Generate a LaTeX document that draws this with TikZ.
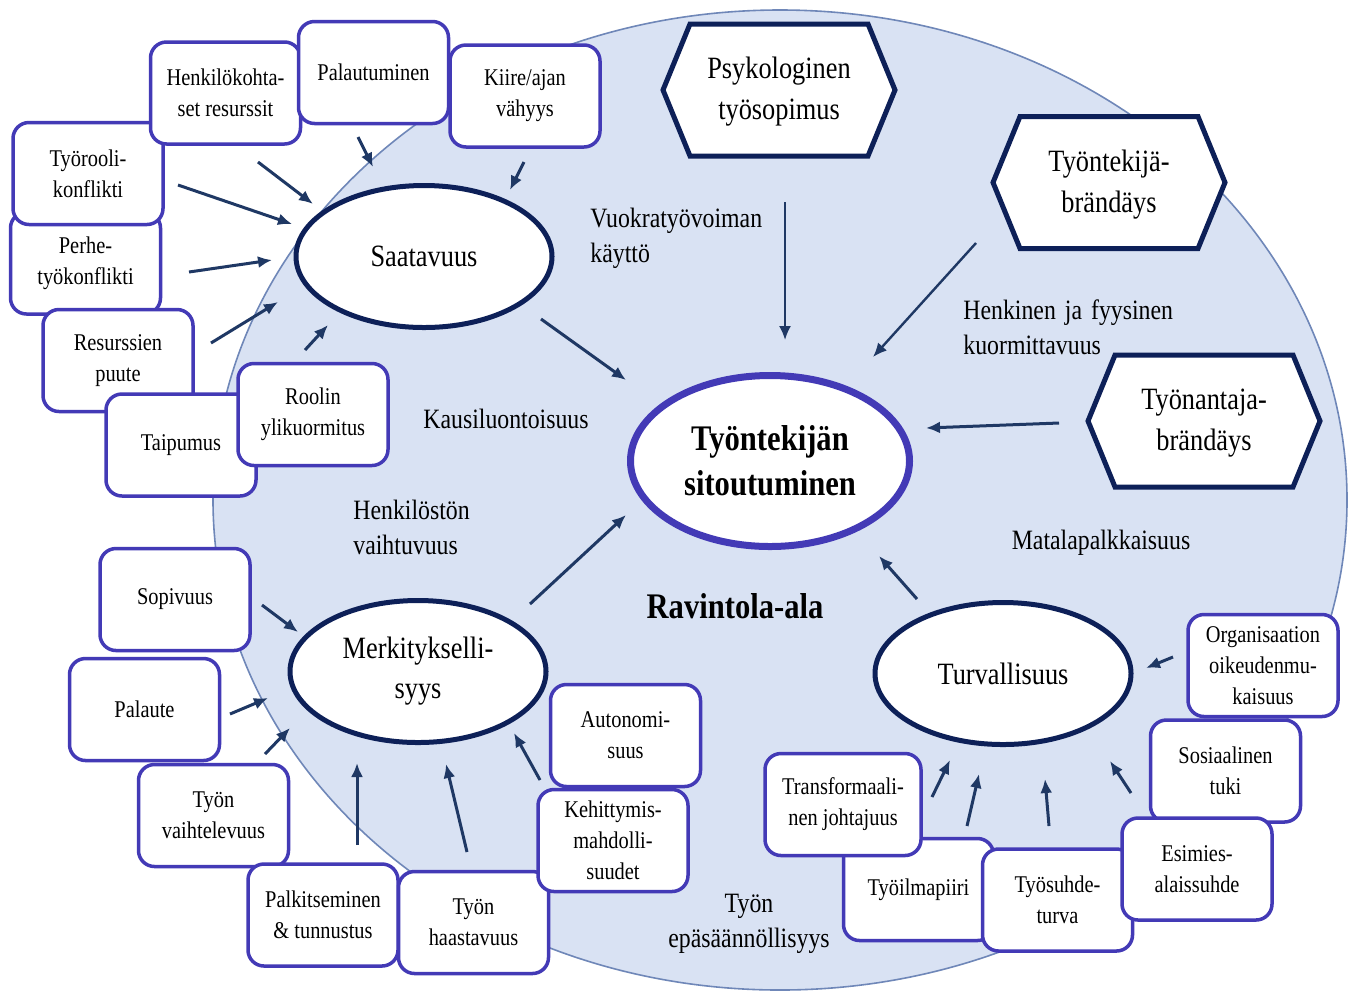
\documentclass[tikz,border=0pt]{standalone}
\usepackage{fontspec}
\setmainfont{Liberation Serif}[FakeStretch=0.85]
\usetikzlibrary{arrows.meta,shapes.geometric}
\definecolor{bgfill}{HTML}{D9E2F3}
\definecolor{bgline}{HTML}{6F87B8}
\definecolor{navy}{HTML}{0D2058}
\definecolor{purp}{HTML}{433AB6}
\definecolor{arrowc}{HTML}{1F3864}
\tikzset{
  box/.style={draw=purp, line width=1.75pt, fill=white, rounded corners=8pt,
    minimum width=75pt, minimum height=51pt, inner sep=0pt, align=center,
    font=\fontsize{12}{15.5}\selectfont},
  ell/.style={draw=navy, line width=2.5pt, fill=white, ellipse, inner sep=0pt,
    minimum width=128pt, minimum height=71pt, align=center,
    font=\fontsize{15.5}{20}\selectfont},
  hextext/.style={align=center, inner sep=0pt, font=\fontsize{15.5}{20.5}\selectfont},
  lbl/.style={align=left, inner sep=0pt, font=\fontsize{14}{17.5}\selectfont},
  arr/.style={draw=arrowc, line width=1.5pt, -{Latex[length=7pt,width=6pt]}},
  pics/hexa/.style={code={\draw[navy, line width=2.5pt, fill=white, line join=miter]
     (-116,0) -- (-89,-66) -- (89,-66) -- (116,0) -- (89,66) -- (-89,66) -- cycle;}}
}
\begin{document}
\begin{tikzpicture}[x=0.5pt,y=-0.5pt]
\useasboundingbox (0,0) rectangle (1352,992);
\clip (0,0) rectangle (1352,992);
% background
\draw[fill=bgfill, draw=bgline, line width=0.8pt] (780,500) ellipse [x radius=283.5pt, y radius=245pt];

% hexagons
\pic at (779,90) {hexa};
\node[hextext] (psy) at (779,92) {Psykologinen\\työsopimus};
\pic at (1109,182.5) {hexa};
\node[hextext] (tb) at (1109,185) {Työntekijä-\\brändäys};
\pic at (1204,421) {hexa};
\node[hextext] (ab) at (1204,423) {Työnantaja-\\brändäys};

% central
\node[draw=purp, line width=3.5pt, fill=white, ellipse, inner sep=0pt,
  minimum width=139.5pt, minimum height=85.5pt, align=center,
  font=\bfseries\fontsize{18}{22.5}\selectfont] (c) at (770,461) {Työntekijän\\sitoutuminen};

\node[ell] (saat) at (424,256.5) {Saatavuus};
\node[ell] (merk) at (418,671.5) {Merkitykselli-\\syys};
\node[ell] (turv) at (1003,673.5) {Turvallisuus};

% labels
\node[lbl, anchor=west] (vuok) at (590,238) {Vuokratyövoiman\\käyttö};
\node[lbl, anchor=west] (henkfy) at (963,327) {Henkinen\hspace{4.5pt}ja\hspace{4.5pt}fyysinen\\kuormittavuus};
\node[lbl] (kausi) at (506,419) {Kausiluontoisuus};
\node[lbl, anchor=west] (vaiht) at (353,527.5) {Henkilöstön\\vaihtuvuus};
\node[lbl] (matala) at (1101,543) {Matalapalkkaisuus};
\node[lbl, align=center] (epas) at (749,924) {Työn\\epäsäännöllisyys};
\node[inner sep=0pt, font=\bfseries\fontsize{18}{22}\selectfont] (rav) at (735,606) {Ravintola-ala};

% arrows into Saatavuus
\coordinate (h1s) at (258,162); \coordinate (h1e) at (313,204);
\coordinate (p1s) at (358,137); \coordinate (p1e) at (373,167);
\coordinate (k1s) at (524,162); \coordinate (k1e) at (510,190);
\coordinate (t1s) at (178,185); \coordinate (t1e) at (292,224);
\coordinate (f1s) at (189,272); \coordinate (f1e) at (272,260);
\coordinate (r1s) at (211,343); \coordinate (r1e) at (278,302);
\coordinate (o1s) at (305,350); \coordinate (o1e) at (328,325);
\foreach \a in {h1,p1,k1,t1,f1,r1,o1} {\draw[arr] (\a s) -- (\a e);}

% arrows into centre
\coordinate (sc1) at (541,319); \coordinate (sc2) at (626,380);
\coordinate (pc1) at (785,202); \coordinate (pc2) at (785,340);
\coordinate (tc1) at (976,243); \coordinate (tc2) at (873,357);
\coordinate (ac1) at (1059,423); \coordinate (ac2) at (926,428);
\coordinate (mc1) at (530,604); \coordinate (mc2) at (626,515);
\coordinate (uc1) at (917,599); \coordinate (uc2) at (879,556);
\draw[arr] (sc1) -- (sc2);
\draw[arr, line width=1pt] (pc1) -- (pc2);
\draw[arr, line width=1.2pt] (tc1) -- (tc2);
\draw[arr] (ac1) -- (ac2);
\draw[arr] (mc1) -- (mc2);
\draw[arr] (uc1) -- (uc2);

% arrows into Merkityksellisyys
\coordinate (m1s) at (262,605); \coordinate (m1e) at (298,632);
\coordinate (m2s) at (230,714); \coordinate (m2e) at (268,698);
\coordinate (m3s) at (265,754); \coordinate (m3e) at (290,728);
\coordinate (m4s) at (357,845); \coordinate (m4e) at (357,763);
\coordinate (m5s) at (467,852); \coordinate (m5e) at (446,764);
\coordinate (m6s) at (540,780); \coordinate (m6e) at (514,733);
\foreach \a in {m1,m2,m3,m4,m5,m6} {\draw[arr] (\a s) -- (\a e);}

% arrows into Turvallisuus
\coordinate (u1s) at (1173,657); \coordinate (u1e) at (1146,668);
\coordinate (u2s) at (932,797); \coordinate (u2e) at (950,760);
\coordinate (u3s) at (967,826); \coordinate (u3e) at (979,774);
\coordinate (u4s) at (1049,826); \coordinate (u4e) at (1045,779);
\coordinate (u5s) at (1131,793); \coordinate (u5e) at (1110,761);
\foreach \a in {u1,u2,u3,u4,u5} {\draw[arr] (\a s) -- (\a e);}

% top-left boxes
\node[box] (perhe) at (85.5,263) {Perhe-\\työkonflikti};
\node[box] (rooli) at (88,173.5) {Työrooli-\\konflikti};
\node[box] (henk) at (225.5,93) {Henkilökohta-\\set resurssit};
\node[box] (palau) at (373.5,72.5) {Palautuminen};
\node[box] (kiire) at (525,96) {Kiire/ajan\\vähyys};
\node[box] (resur) at (118,360.5) {Resurssien\\puute};
\node[box] (taip) at (181,445) {Taipumus};
\node[box] (ylik) at (313,414.5) {Roolin\\ylikuormitus};

% bottom-left boxes
\node[box] (sopi) at (175,599.5) {Sopivuus};
\node[box] (palaute) at (144.5,709.5) {Palaute};
\node[box] (vaihtel) at (213.5,815.5) {Työn\\vaihtelevuus};
\node[box] (palk) at (323,915) {Palkitseminen\\\&\ tunnustus};
\node[box] (haast) at (473.5,922.5) {Työn\\haastavuus};
\node[box] (auto) at (625.5,735.5) {Autonomi-\\suus};
\node[box] (kehit) at (613,840.5) {Kehittymis-\\mahdolli-\\suudet};

% bottom-right boxes
\node[box] (org) at (1263,665.5) {Organisaation\\oikeudenmu-\\kaisuus};
\node[box] (sos) at (1225.5,771) {Sosiaalinen\\tuki};
\node[box] (ilma) at (918.5,889.5) {Työilmapiiri};
\node[box, minimum width=78pt] (transf) at (843,804.5) {Transformaali-\\nen johtajuus};
\node[box] (suhde) at (1057.5,900) {Työsuhde-\\turva};
\node[box] (esim) at (1197,869) {Esimies-\\alaissuhde};
\end{tikzpicture}
\end{document}
